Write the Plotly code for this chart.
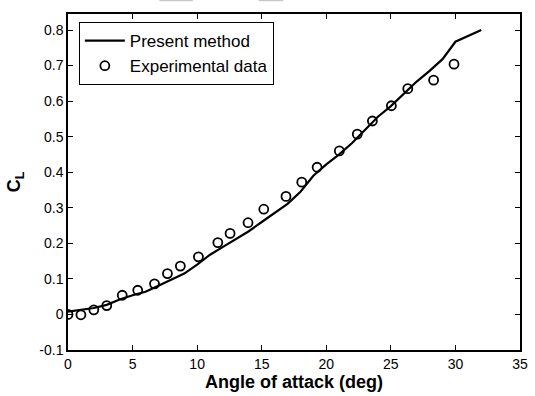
import plotly.graph_objects as go

# Present method (line)
line_aoa = [0, 1, 2, 3, 4, 5, 6, 7, 8, 9, 10, 11, 12, 13, 14, 15, 16, 17, 18, 19,
            20, 21, 22, 23, 24, 25, 26, 27, 28, 29, 30, 32]
line_cl = [0.008, 0.012, 0.018, 0.027, 0.042, 0.054, 0.064, 0.081, 0.097, 0.115,
           0.140, 0.168, 0.190, 0.212, 0.234, 0.260, 0.285, 0.311, 0.345, 0.390,
           0.422, 0.450, 0.482, 0.518, 0.556, 0.586, 0.620, 0.655, 0.685, 0.718,
           0.767, 0.800]

# Experimental data (circles)
exp_aoa = [0.0, 1.0, 2.0, 3.0, 4.2, 5.4, 6.7, 7.7, 8.7, 10.1, 11.6, 12.55, 13.94,
           15.16, 16.88, 18.1, 19.29, 21.01, 22.4, 23.57, 25.04, 26.31, 28.31, 29.89]
exp_cl = [0.0, -0.001, 0.013, 0.025, 0.054, 0.068, 0.086, 0.115, 0.136, 0.162,
          0.202, 0.228, 0.258, 0.296, 0.332, 0.372, 0.414, 0.460, 0.507, 0.544,
          0.587, 0.635, 0.659, 0.704]

x_ticks = [0, 5, 10, 15, 20, 25, 30, 35]
y_ticks = [-0.1, 0, 0.1, 0.2, 0.3, 0.4, 0.5, 0.6, 0.7, 0.8]
y_tick_text = ["-0.1", "0", "0.1", "0.2", "0.3", "0.4", "0.5", "0.6", "0.7", "0.8"]

FONT = "Liberation Sans Narrow, Arial Narrow, Liberation Sans, Arial"

fig = go.Figure()
fig.add_trace(go.Scatter(x=line_aoa, y=line_cl, mode="lines", name="Present method",
                         line=dict(color="black", width=2.2)))
fig.add_trace(go.Scatter(x=exp_aoa, y=exp_cl, mode="markers", name="Experimental data",
                         marker=dict(symbol="circle-open", size=9, color="black",
                                     line=dict(width=1.8, color="black"))))

axis_common = dict(showgrid=False, zeroline=False, showline=True, linecolor="black",
                   linewidth=1.5, mirror="ticks", ticks="inside", ticklen=5,
                   tickcolor="black", tickwidth=1,
                   tickfont=dict(family=FONT, size=14, color="black"))

fig.update_xaxes(range=[0, 35], tickvals=x_ticks, **axis_common,
                 title=dict(text="<b>Angle of attack (deg)</b>", standoff=4,
                            font=dict(family=FONT, size=18, color="black")))
fig.update_yaxes(range=[-0.1, 0.845], tickvals=y_ticks, ticktext=y_tick_text, **axis_common,
                 title=dict(text="<b>C<sub>L</sub></b>", standoff=14,
                            font=dict(family=FONT, size=18, color="black")))

fig.update_layout(
    width=535, height=396,
    margin=dict(l=68, r=7, t=14, b=46),
    paper_bgcolor="white", plot_bgcolor="white",
    showlegend=True,
    legend=dict(x=0.024, y=0.976, xanchor="left", yanchor="top",
                bgcolor="white", bordercolor="black", borderwidth=1,
                font=dict(family=FONT, size=17, color="black"),
                tracegroupgap=0, itemwidth=40),
    shapes=[
        dict(type="line", xref="paper", yref="paper", x0=(161 - 68) / 460, x1=(195 - 68) / 460,
             y0=1 + 13.5 / 336, y1=1 + 13.5 / 336, line=dict(color="#c8c8c8", width=1.5)),
        dict(type="line", xref="paper", yref="paper", x0=(262 - 68) / 460, x1=(287 - 68) / 460,
             y0=1 + 13.5 / 336, y1=1 + 13.5 / 336, line=dict(color="#c8c8c8", width=1.5)),
    ],
)

fig.write_html("out.html")
